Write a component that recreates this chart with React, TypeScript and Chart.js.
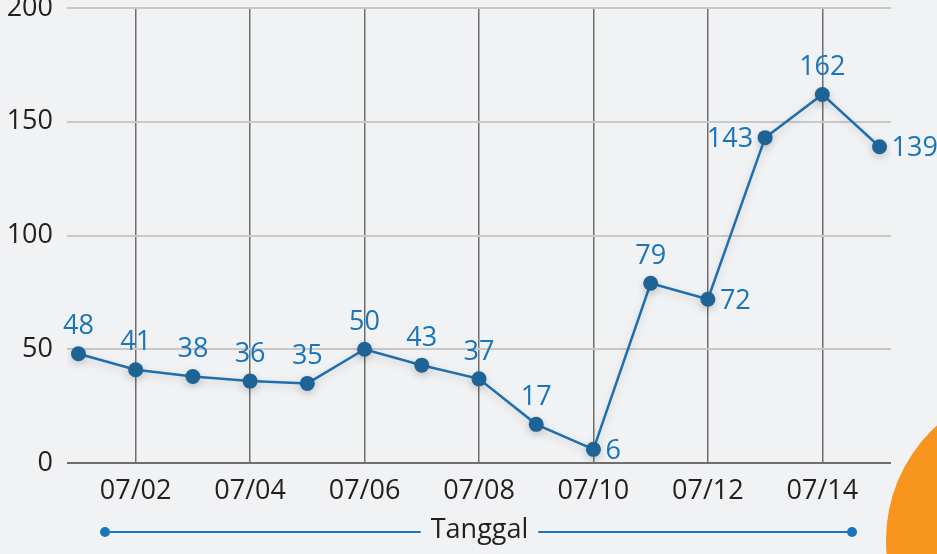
import React, { useEffect, useRef } from "react";
import { Chart, registerables } from "chart.js";

Chart.register(...registerables);

const dates = ["07/01","07/02","07/03","07/04","07/05","07/06","07/07","07/08","07/09","07/10","07/11","07/12","07/13","07/14","07/15"];
const values = [48, 41, 38, 36, 35, 50, 43, 37, 17, 6, 79, 72, 143, 162, 139];
const labelPos = ["top","top","top","top","top","top","top","top","top","right","top","right","left","top","right"];
const xTicks = [2, 4, 6, 8, 10, 12, 14];
const yTicks = [0, 50, 100, 150, 200];
const axisTitle = "Tanggal";

const FONT = "'Open Sans', 'Noto Sans', sans-serif";
const BLUE = "#1a75bb";
const LINE = "#1f6fb0";
const POINT = "#1e6395";
const DARK = "#231f20";
const BG = "#f1f2f4";

export default function App() {
  const ref = useRef<HTMLCanvasElement>(null);
  useEffect(() => {
    const canvas = ref.current!;
    const bgPlugin = {
      id: "bg",
      beforeDraw(chart: any) {
        const ctx = chart.ctx;
        ctx.save();
        ctx.fillStyle = BG;
        ctx.fillRect(0, 0, chart.width, chart.height);
        ctx.fillStyle = "#f7941d";
        ctx.beginPath();
        ctx.arc(1040, 540, 154, 0, Math.PI * 2);
        ctx.fill();
        ctx.restore();
      },
    };
    const shadowPlugin = {
      id: "shadow",
      beforeDatasetsDraw(chart: any) {
        const ctx = chart.ctx;
        ctx.save();
        ctx.shadowColor = "rgba(0,0,0,0.18)";
        ctx.shadowBlur = 8;
        ctx.shadowOffsetY = 3;
      },
      afterDatasetsDraw(chart: any) {
        chart.ctx.restore();
      },
    };
    const labelPlugin = {
      id: "labels",
      afterDatasetsDraw(chart: any) {
        const ctx = chart.ctx;
        const meta = chart.getDatasetMeta(0);
        ctx.save();
        ctx.font = `27px ${FONT}`;
        ctx.fillStyle = BLUE;
        meta.data.forEach((pt: any, i: number) => {
          const pos = labelPos[i];
          const txt = String(values[i]);
          ctx.textBaseline = "middle";
          if (pos === "top") {
            ctx.textAlign = "center";
            ctx.fillText(txt, pt.x, pt.y - 27);
          } else if (pos === "right") {
            ctx.textAlign = "left";
            ctx.fillText(txt, pt.x + 12, pt.y + 2);
          } else {
            ctx.textAlign = "right";
            ctx.fillText(txt, pt.x - 12, pt.y + 2);
          }
        });
        ctx.restore();
      },
    };
    const titlePlugin = {
      id: "title",
      afterDraw(chart: any) {
        const ctx = chart.ctx;
        const cx = (105 + 852) / 2 + 1;
        const y = 532;
        ctx.save();
        ctx.font = `27px ${FONT}`;
        ctx.fillStyle = DARK;
        ctx.textAlign = "center";
        ctx.textBaseline = "middle";
        ctx.fillText(axisTitle, cx, y - 2);
        const w = ctx.measureText(axisTitle).width;
        ctx.strokeStyle = BLUE;
        ctx.lineWidth = 2;
        ctx.beginPath();
        ctx.moveTo(105, y);
        ctx.lineTo(cx - w / 2 - 10, y);
        ctx.moveTo(cx + w / 2 + 10, y);
        ctx.lineTo(852, y);
        ctx.stroke();
        ctx.fillStyle = BLUE;
        ctx.beginPath();
        ctx.arc(105, y, 5, 0, Math.PI * 2);
        ctx.fill();
        ctx.beginPath();
        ctx.arc(852, y, 5, 0, Math.PI * 2);
        ctx.fill();
        ctx.restore();
      },
    };

    const chart = new Chart(canvas, {
      type: "line",
      data: {
        datasets: [
          {
            data: values.map((v, i) => ({ x: i + 1, y: v })),
            borderColor: LINE,
            borderWidth: 2.5,
            backgroundColor: POINT,
            pointBackgroundColor: POINT,
            pointBorderColor: POINT,
            pointRadius: 7.5,
            pointBorderWidth: 0,
            tension: 0,
          },
        ],
      },
      options: {
        responsive: false,
        animation: false,
        events: [],
        layout: { padding: { top: 8, right: 46, left: 0, bottom: 0 } },
        plugins: { legend: { display: false }, tooltip: { enabled: false } },
        scales: {
          x: {
            type: "linear",
            min: 0.8,
            max: 15.2,
            afterBuildTicks(scale: any) {
              scale.ticks = xTicks.map((v) => ({ value: v }));
            },
            afterFit(scale: any) {
              scale.height = 91;
              scale.paddingLeft = 0;
              scale.paddingRight = 0;
            },
            ticks: {
              autoSkip: false,
              maxRotation: 0,
              padding: 12,
              color: DARK,
              font: { family: FONT, size: 27 },
              callback: (v: any) => dates[Number(v) - 1],
            },
            grid: { color: "#6e6e6e", lineWidth: 1.5, drawTicks: false },
            border: { display: false },
          },
          y: {
            min: 0,
            max: 200,
            afterBuildTicks(scale: any) {
              scale.ticks = yTicks.map((v) => ({ value: v }));
            },
            afterFit(scale: any) {
              scale.width = 67;
              scale.paddingTop = 0;
              scale.paddingBottom = 0;
            },
            ticks: {
              padding: 14,
              color: DARK,
              font: { family: FONT, size: 27 },
            },
            grid: {
              color: (c: any) => (c.tick && c.tick.value === 0 ? "#6e6e6e" : "#c8c8c8"),
              lineWidth: 2,
              drawTicks: false,
            },
            border: { display: false },
          },
        },
      },
      plugins: [bgPlugin, shadowPlugin, labelPlugin, titlePlugin],
    });
    return () => chart.destroy();
  }, []);
  return (
    <div style={{ position: "fixed", left: 0, top: 0, width: 937, height: 554, background: BG }}>
      <canvas ref={ref} width={937} height={554} style={{ display: "block", width: 937, height: 554 }} />
    </div>
  );
}
